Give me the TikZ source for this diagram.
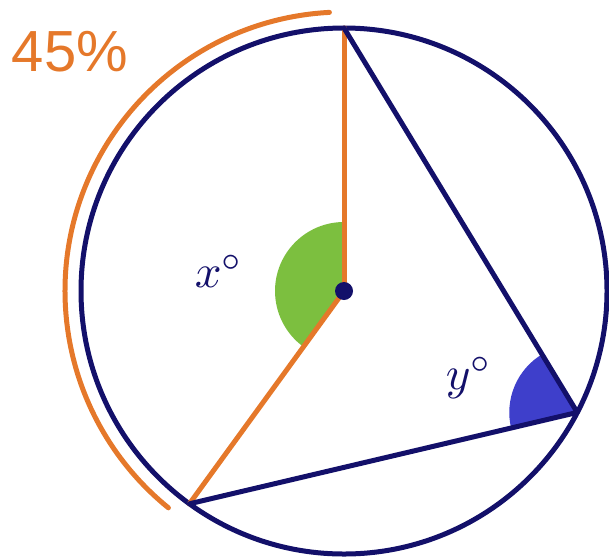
\documentclass[tikz,border=0pt]{standalone}
\usepackage{fontspec}
\usetikzlibrary{calc}
\newfontfamily\labelsans{Liberation Sans}
\definecolor{navy}{HTML}{13106A}
\definecolor{orng}{HTML}{E5782A}
\definecolor{grn}{HTML}{7CBF3F}
\definecolor{blu}{HTML}{3E3FCB}
\begin{document}
\begin{tikzpicture}[x=1pt,y=-1pt,
  navyline/.style={draw=navy,line width=5pt,line cap=round,line join=round},
  orngline/.style={draw=orng,line width=5pt,line cap=round},
  lbl/.style={inner sep=0pt}]
\useasboundingbox (0,0) rectangle (609,557);
\coordinate (O) at (344,291);
\coordinate (A) at ($(O)+(90:263pt)$);
\coordinate (B) at ($(O)+(234:263pt)$);
\coordinate (C) at ($(O)+(-27.5:263pt)$);
% sectors
\fill[grn] (O) -- ($(O)+(90:69pt)$) arc[start angle=90,end angle=234,radius=69pt] -- cycle;
\fill[blu] (C) -- ($(C)+(120.9:68pt)$) arc[start angle=120.9,end angle=193.5,radius=68pt] -- cycle;
% outer orange arc
\draw[orngline] ($(O)+(93:279pt)$) arc[start angle=93,end angle=231,radius=279pt];
% circle
\draw[navyline] (O) circle[radius=263pt];
% radii
\draw[orngline] (O) -- (A);
\draw[orngline] (O) -- (B);
% chords
\draw[navyline] (A) -- (C) -- (B);
\fill[navy] (O) circle[radius=9pt];
% labels
\node[lbl,text=orng] (p) at (70,52) {\labelsans\fontsize{58}{58}\selectfont 45\%};
\node[lbl,text=navy,scale=4.7] (x) at (219,271) {$x^{\circ}$};
\node[lbl,text=navy,scale=4.7] (y) at (469,378) {$y^{\circ}$};
\end{tikzpicture}
\end{document}
